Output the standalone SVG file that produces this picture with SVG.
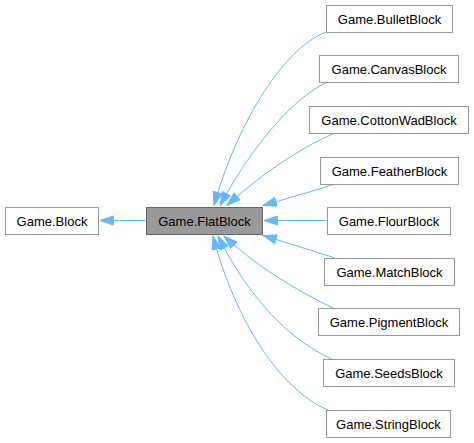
<svg xmlns="http://www.w3.org/2000/svg" width="474" height="443" viewBox="0 0 474 443">
<style>
.n rect{fill:#ffffff;stroke:#999999;stroke-width:1}
#n_flat rect{fill:#999999;stroke:#666666}
.n text{font-family:"Liberation Sans",Arial,sans-serif;font-size:13px;fill:#000000;text-anchor:middle}
.e path{fill:none;stroke:#63b8ff;stroke-width:1;marker-end:url(#ah)}
</style>
<defs>
<marker id="ah" markerWidth="15" markerHeight="11" refX="14" refY="5" orient="auto" markerUnits="userSpaceOnUse">
<path d="M0.5,0.5 L14,5 L0.5,9.5 z" fill="#63b8ff" stroke="#63b8ff" stroke-width="1"/>
</marker>
</defs>
<rect width="474" height="443" fill="#ffffff"/>
<g class="e" id="edges">
<path d="M146,220.5 L100,220.5"/>
<path d="M326,32 C280,50 235,130 214,205.5"/>
<path d="M327,82 C290,100 250,150 220,205.5"/>
<path d="M335,133 C295,150 255,180 227,205.5"/>
<path d="M335,184 C310,192 285,199 263,205.5"/>
<path d="M327,220.5 L264,220.5"/>
<path d="M335,258 C310,250 285,242 263,235.5"/>
<path d="M335,309 C295,290 255,265 224,236"/>
<path d="M332,359 C290,340 250,300 218,236"/>
<path d="M328,410 C280,390 235,320 213,236"/>
</g>
<g class="n" id="n_block"><rect x="5.5" y="207.5" width="93" height="27"/><text x="52" y="225.5">Game.Block</text></g>
<g class="n" id="n_flat"><rect x="146.5" y="207.5" width="116" height="27"/><text x="204.5" y="225.5">Game.FlatBlock</text></g>
<g class="n" id="n_bullet"><rect x="326.5" y="5.5" width="126" height="27"/><text x="389.5" y="23.5">Game.BulletBlock</text></g>
<g class="n" id="n_canvas"><rect x="319.5" y="55.5" width="139" height="27"/><text x="389" y="73.5">Game.CanvasBlock</text></g>
<g class="n" id="n_cotton"><rect x="309.5" y="106.5" width="159" height="27"/><text x="389" y="124.5">Game.CottonWadBlock</text></g>
<g class="n" id="n_feather"><rect x="320.5" y="157.5" width="138" height="27"/><text x="389.5" y="175.5">Game.FeatherBlock</text></g>
<g class="n" id="n_flour"><rect x="327.5" y="207.5" width="123" height="27"/><text x="389" y="225.5">Game.FlourBlock</text></g>
<g class="n" id="n_match"><rect x="324.5" y="258.5" width="130" height="27"/><text x="389.5" y="276.5">Game.MatchBlock</text></g>
<g class="n" id="n_pigment"><rect x="318.5" y="308.5" width="141" height="27"/><text x="389" y="326.5">Game.PigmentBlock</text></g>
<g class="n" id="n_seeds"><rect x="323.5" y="359.5" width="131" height="27"/><text x="389" y="377.5">Game.SeedsBlock</text></g>
<g class="n" id="n_string"><rect x="326.5" y="410.5" width="124" height="27"/><text x="388.5" y="428.5">Game.StringBlock</text></g>
</svg>
